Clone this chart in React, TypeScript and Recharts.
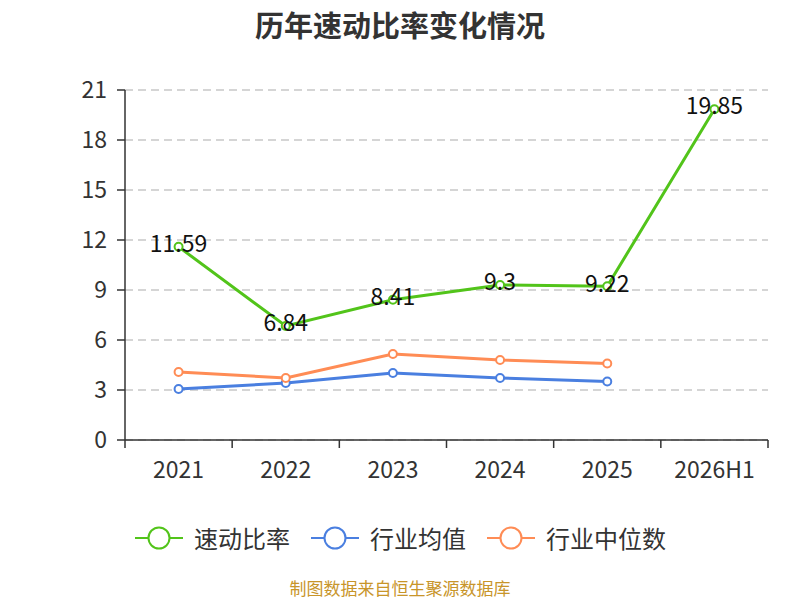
import { LineChart, Line, XAxis, YAxis, CartesianGrid, LabelList } from 'recharts';

const years = ['2021', '2022', '2023', '2024', '2025', '2026H1'];
const quickRatio = [11.59, 6.84, 8.41, 9.3, 9.22, 19.85];
const industryAvg = [3.06, 3.42, 4.02, 3.72, 3.51, null];
const industryMedian = [4.08, 3.72, 5.16, 4.8, 4.59, null];
const yTicks = [0, 3, 6, 9, 12, 15, 18, 21];

const series = [
  { key: 'quick', name: '速动比率', color: '#52c41a' },
  { key: 'avg', name: '行业均值', color: '#4a7fe0' },
  { key: 'median', name: '行业中位数', color: '#ff8c55' },
];

const data = years.map((year, i) => ({
  year,
  quick: quickRatio[i],
  avg: industryAvg[i],
  median: industryMedian[i],
}));

const font = '"Microsoft YaHei", "Noto Sans CJK SC", "Noto Sans", sans-serif';
const TICK_SIZE = 8;
const TICK_MARGIN = 14;

const ValueLabel = (props: any) => {
  const { x, y, value } = props;
  return (
    <text x={x} y={y} dy={-1} textAnchor="middle" dominantBaseline="middle" fontSize={23} fill="#111" fontFamily={font}>
      {value}
    </text>
  );
};

// category label plus tick marks on the band edges
const XTick = (props: any) => {
  const { x, y, payload, index, visibleTicksCount } = props;
  const half = payload.offset || 0;
  const axisY = y - TICK_SIZE - TICK_MARGIN;
  const last = index === visibleTicksCount - 1;
  return (
    <g>
      <line x1={x - half} x2={x - half} y1={axisY} y2={axisY + TICK_SIZE} stroke="#333" strokeWidth={1.5} />
      {last && <line x1={x + half} x2={x + half} y1={axisY} y2={axisY + TICK_SIZE} stroke="#333" strokeWidth={1.5} />}
      <text x={x} y={y} dy="0.71em" textAnchor="middle" fontSize={23} fill="#333" fontFamily={font}>
        {payload.value}
      </text>
    </g>
  );
};

const LegendRow = () => (
  <div style={{ position: 'absolute', top: 520, left: 0, width: 800, display: 'flex', justifyContent: 'center', gap: 20, fontFamily: font, fontSize: 24, color: '#333' }}>
    {series.map((s) => (
      <div key={s.key} style={{ display: 'flex', alignItems: 'center' }}>
        <svg width={50} height={34} style={{ marginRight: 10 }}>
          <line x1={1} y1={17} x2={49} y2={17} stroke={s.color} strokeWidth={2} />
          <circle cx={25} cy={17} r={10.5} fill="#fff" stroke={s.color} strokeWidth={2} />
        </svg>
        <span>{s.name}</span>
      </div>
    ))}
  </div>
);

export default function App() {
  return (
    <div style={{ position: 'absolute', left: 0, top: 0, width: 800, height: 600, background: '#fff', overflow: 'hidden' }}>
      <div style={{ position: 'absolute', top: 3, left: 0, width: 800, textAlign: 'center', fontFamily: font, fontSize: 29, fontWeight: 'bold', color: '#333' }}>
        历年速动比率变化情况
      </div>
      <LineChart width={800} height={600} data={data} margin={{ top: 90, right: 32, bottom: 120, left: 0 }}>
        <CartesianGrid vertical={false} stroke="#c8c8c8" strokeDasharray="8 5" strokeWidth={1.5} />
        <XAxis
          dataKey="year"
          scale="band"
          stroke="#333"
          strokeWidth={1.5}
          tickLine={false}
          tickSize={TICK_SIZE}
          tickMargin={TICK_MARGIN}
          height={40}
          interval={0}
          tick={XTick}
        />
        <YAxis
          width={125}
          domain={[0, 21]}
          ticks={yTicks}
          stroke="#333"
          strokeWidth={1.5}
          tickSize={8}
          tickMargin={10}
          tick={{ fontSize: 23, fill: '#333', fontFamily: font }}
        />
        <Line dataKey="avg" name="行业均值" stroke="#4a7fe0" strokeWidth={3} dot={{ r: 4, fill: '#fff', strokeWidth: 2 }} isAnimationActive={false} />
        <Line dataKey="median" name="行业中位数" stroke="#ff8c55" strokeWidth={3} dot={{ r: 4, fill: '#fff', strokeWidth: 2 }} isAnimationActive={false} />
        <Line dataKey="quick" name="速动比率" stroke="#52c41a" strokeWidth={3} dot={{ r: 4, fill: '#fff', strokeWidth: 2 }} isAnimationActive={false}>
          <LabelList dataKey="quick" content={ValueLabel} />
        </Line>
      </LineChart>
      <LegendRow />
      <div style={{ position: 'absolute', top: 578, left: 0, width: 800, textAlign: 'center', fontFamily: font, fontSize: 17, lineHeight: '20px', color: '#c8952a' }}>
        制图数据来自恒生聚源数据库
      </div>
    </div>
  );
}
